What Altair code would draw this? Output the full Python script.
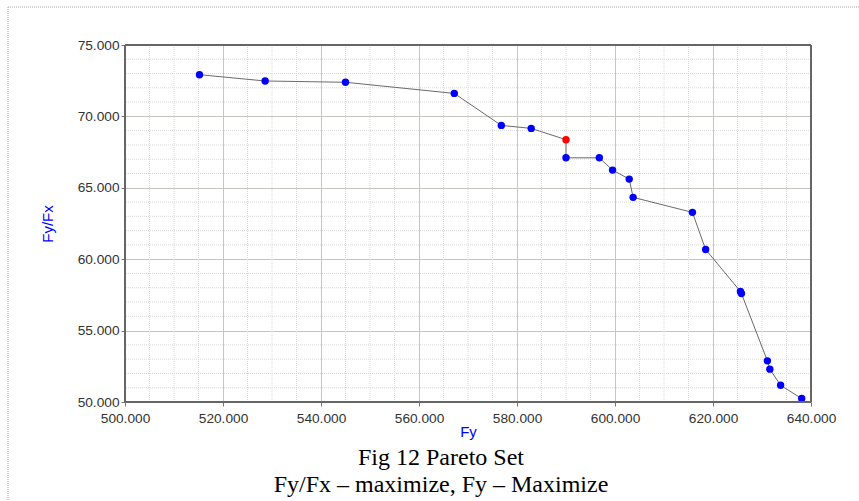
import altair as alt
import pandas as pd

# ---- data ----
fy = [515.2, 528.6, 545.0, 567.2, 576.8, 582.9, 590.0, 590.0, 596.8, 599.5,
      602.9, 603.7, 615.8, 618.5, 625.6, 625.8, 631.1, 631.6, 633.8, 638.1]
fy_fx = [72.92, 72.48, 72.39, 71.61, 69.37, 69.16, 68.37, 67.10, 67.10, 66.24,
         65.61, 64.33, 63.28, 60.68, 57.74, 57.60, 52.88, 52.30, 51.17, 50.24]
status = ["pareto"] * 6 + ["selected"] + ["pareto"] * 13

x_major = [500, 520, 540, 560, 580, 600, 620, 640]
y_major = [50, 55, 60, 65, 70, 75]
x_minor = [v for v in range(500, 641, 5) if v % 20 != 0]
y_minor = [v for v in range(50, 76) if v % 5 != 0]

caption = ["Fig 12 Pareto Set", "Fy/Fx \u2013 maximize, Fy \u2013 Maximize"]

df = pd.DataFrame({"x": fy, "y": fy_fx, "status": status, "order": list(range(len(fy)))})
gx = pd.DataFrame({"x": x_minor})
gy = pd.DataFrame({"y": y_minor})

W, H = 686, 357
LEFT, TOP = 125, 45
LABEL_FONT = "Liberation Sans"

xscale = alt.Scale(domain=[500, 640], nice=False, zero=False)
yscale = alt.Scale(domain=[50, 75], nice=False, zero=False)

xaxis = alt.Axis(values=x_major, format=".3f", grid=True, gridColor="#c9c5c1", gridWidth=1,
                 domain=False, ticks=True, tickSize=4, tickColor="#777",
                 labelFont=LABEL_FONT, labelFontSize=13.7, labelColor="#333", labelPadding=5,
                 labelFlush=False, labelOverlap=False,
                 title="Fy", titleColor="#0000ff", titleFont=LABEL_FONT, titleFontSize=15,
                 titleFontWeight="normal", titlePadding=0)
yaxis = alt.Axis(values=y_major, format=".3f", grid=True, gridColor="#c9c5c1", gridWidth=1,
                 domain=False, ticks=True, tickSize=4, tickColor="#777",
                 labelFont=LABEL_FONT, labelFontSize=13.7, labelColor="#333", labelPadding=2,
                 labelFlush=False, labelOverlap=False,
                 title="Fy/Fx", titleColor="#0000ff", titleFont=LABEL_FONT, titleFontSize=15,
                 titleFontWeight="normal", titlePadding=22)

X = alt.X("x:Q", scale=xscale, axis=xaxis)
Y = alt.Y("y:Q", scale=yscale, axis=yaxis)

minor_x = alt.Chart(gx).mark_rule(color="#d9d9d9", strokeWidth=1, strokeDash=[1, 1]).encode(x=X)
minor_y = alt.Chart(gy).mark_rule(color="#d9d9d9", strokeWidth=1, strokeDash=[1, 1]).encode(y=Y)

line = alt.Chart(df).mark_line(color="#6a6a6a", strokeWidth=1).encode(
    x=X, y=Y, order=alt.Order("order:Q"))

points = alt.Chart(df).mark_circle(size=55, opacity=1).encode(
    x=X, y=Y,
    color=alt.Color("status:N", scale=alt.Scale(domain=["pareto", "selected"], range=["#0000ff", "#ff0000"]),
                    legend=None))

frame_color = "#666666"
one = pd.DataFrame({"k": [0]})
frame_top = alt.Chart(one).mark_rule(color=frame_color, strokeWidth=2).encode(
    x=alt.value(0), x2=alt.value(W), y=alt.value(0))
frame_bottom = alt.Chart(one).mark_rule(color=frame_color, strokeWidth=2).encode(
    x=alt.value(0), x2=alt.value(W), y=alt.value(H))
frame_left = alt.Chart(one).mark_rule(color=frame_color, strokeWidth=2).encode(
    x=alt.value(0), y=alt.value(0), y2=alt.value(H))
frame_right = alt.Chart(one).mark_rule(color=frame_color, strokeWidth=2).encode(
    x=alt.value(W), y=alt.value(0), y2=alt.value(H))

# dotted page border (decorative)
border_top = alt.Chart(one).mark_rule(color="#aaaaaa", strokeWidth=1, strokeDash=[1, 1]).encode(
    x=alt.value(8 - LEFT), x2=alt.value(859 - LEFT), y=alt.value(7 - TOP))
border_left = alt.Chart(one).mark_rule(color="#aaaaaa", strokeWidth=1, strokeDash=[1, 1]).encode(
    x=alt.value(8 - LEFT), y=alt.value(7 - TOP), y2=alt.value(501 - TOP))

# caption below the figure
cap1 = alt.Chart(pd.DataFrame({"t": [caption[0]]})).mark_text(
    font="Liberation Serif", fontSize=24, color="#000000", align="center", baseline="alphabetic"
).encode(text="t:N", x=alt.value(441 - LEFT), y=alt.value(465 - TOP))
cap2 = alt.Chart(pd.DataFrame({"t": [caption[1]]})).mark_text(
    font="Liberation Serif", fontSize=24, color="#000000", align="center", baseline="alphabetic"
).encode(text="t:N", x=alt.value(441 - LEFT), y=alt.value(492 - TOP))

chart = alt.layer(
    minor_x, minor_y, line, points,
    frame_top, frame_bottom, frame_left, frame_right,
    border_top, border_left, cap1, cap2,
).properties(
    width=W, height=H,
    autosize=alt.AutoSizeParams(type="none"),
    padding={"left": LEFT, "top": TOP, "right": 859 - LEFT - W, "bottom": 501 - TOP - H},
    background="white",
).configure_view(stroke=None)

chart.save("out.html", embed_options={"renderer": "svg", "actions": False})
